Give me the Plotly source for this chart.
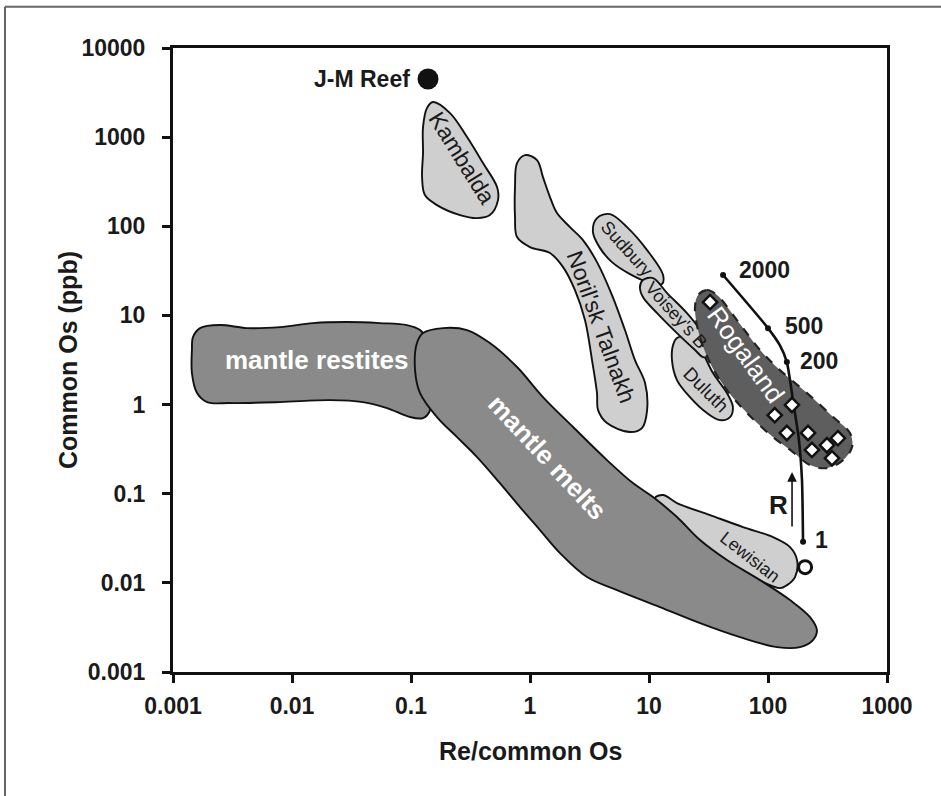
import numpy as np
import plotly.graph_objects as go

# ---------------- data (outlines as log10 values) ----------------
tick_vals_x = [0.001, 0.01, 0.1, 1, 10, 100, 1000]
tick_text_x = ["0.001", "0.01", "0.1", "1", "10", "100", "1000"]
tick_vals_y = [0.001, 0.01, 0.1, 1, 10, 100, 1000, 10000]
tick_text_y = ["0.001", "0.01", "0.1", "1", "10", "100", "1000", "10000"]

# region outlines: log10(Re/common Os), log10(common Os)
restites_lx = [-2.832, -2.773, -2.606, -2.378, -2.101, -1.824, -1.538, -1.261, -1.034, -0.924, -0.866,
               -0.857, -0.857, -0.840, -0.899, -1.008, -1.201, -1.403, -1.680, -2.101, -2.521, -2.714,
               -2.798, -2.841, -2.841]
restites_ly = [0.757, 0.858, 0.892, 0.858, 0.869, 0.914, 0.926, 0.914, 0.892, 0.836, 0.724,
               0.499, 0.219, -0.062, -0.151, -0.140, -0.039, 0.028, 0.050, 0.028, 0.017, 0.028,
               0.129, 0.353, 0.612]

melts_lx = [-0.950, -0.899, -0.731, -0.529, -0.337, -0.109, 0.109, 0.362, 0.647, 0.865, 1.034, 1.235,
            1.429, 1.655, 1.933, 2.185, 2.353, 2.411, 2.378, 2.269, 2.076, 1.765, 1.429, 1.092, 0.731,
            0.479, 0.252, 0.084, -0.084, -0.253, -0.445, -0.613, -0.782, -0.924, -0.966]
melts_ly = [0.690, 0.802, 0.858, 0.836, 0.690, 0.421, 0.084, -0.252, -0.623, -0.881, -1.038, -1.262,
            -1.520, -1.744, -1.969, -2.193, -2.384, -2.530, -2.642, -2.721, -2.721, -2.609, -2.452,
            -2.272, -2.081, -1.935, -1.666, -1.408, -1.150, -0.881, -0.589, -0.365, -0.140, 0.129, 0.387]

lewisian_lx = [1.051, 1.118, 1.235, 1.513, 1.790, 2.042, 2.185, 2.244, 2.227, 2.160, 2.100, 1.765, 1.429, 1.176]
lewisian_ly = [-1.049, -1.015, -1.105, -1.240, -1.374, -1.487, -1.599, -1.745, -1.935, -2.025, -2.059,
               -1.857, -1.576, -1.240]

kambalda_lx = [-0.815, -0.672, -0.529, -0.395, -0.277, -0.269, -0.337, -0.445, -0.588, -0.782, -0.883,
               -0.907, -0.899, -0.899, -0.866]
kambalda_ly = [3.394, 3.270, 3.001, 2.709, 2.440, 2.294, 2.126, 2.092, 2.126, 2.238, 2.350,
               2.552, 2.821, 3.113, 3.326]

norilsk_lx = [-0.042, 0.059, 0.109, 0.168, 0.227, 0.336, 0.445, 0.563, 0.689, 0.798, 0.882, 0.967, 0.984,
              0.941, 0.840, 0.647, 0.572, 0.563, 0.521, 0.462, 0.378, 0.278, 0.168, 0.000, -0.109,
              -0.126, -0.126, -0.109]
norilsk_ly = [2.799, 2.743, 2.552, 2.328, 2.148, 1.991, 1.845, 1.598, 1.228, 0.836, 0.499, 0.241, -0.062,
              -0.264, -0.308, -0.208, -0.062, 0.129, 0.499, 0.948, 1.284, 1.542, 1.700, 1.767, 1.879,
              2.103, 2.440, 2.709]

sudbury_lx = [0.563, 0.673, 0.815, 0.984, 1.118, 1.109, 0.992, 0.840, 0.689, 0.589, 0.529]
sudbury_ly = [2.092, 2.137, 1.991, 1.733, 1.453, 1.352, 1.374, 1.464, 1.598, 1.755, 1.935]

voisey_lx = [0.949, 1.034, 1.152, 1.319, 1.454, 1.538, 1.538, 1.454, 1.387, 1.235, 1.068, 0.949, 0.924]
voisey_ly = [1.397, 1.419, 1.251, 1.026, 0.802, 0.645, 0.555, 0.533, 0.612, 0.802, 1.026, 1.206, 1.318]

duluth_lx = [1.235, 1.344, 1.429, 1.538, 1.655, 1.705, 1.681, 1.597, 1.487, 1.344, 1.235, 1.193, 1.202]
duluth_ly = [0.746, 0.768, 0.634, 0.353, 0.129, -0.028, -0.140, -0.174, -0.095, 0.084, 0.275, 0.499, 0.667]

rogaland_lx = [1.412, 1.487, 1.571, 1.739, 1.933, 2.100, 2.328, 2.547, 2.689, 2.706, 2.631, 2.495, 2.353,
               2.210, 2.042, 1.824, 1.655, 1.513, 1.412, 1.387]
rogaland_ly = [1.228, 1.285, 1.228, 0.948, 0.612, 0.387, 0.129, -0.140, -0.320, -0.477, -0.623, -0.712,
               -0.679, -0.533, -0.365, -0.095, 0.163, 0.466, 0.836, 1.094]

# Rogaland samples
rogaland_re_os = [32.6, 159, 114, 144, 217, 234, 313, 387, 345]
rogaland_os = [14.1, 0.99, 0.76, 0.48, 0.48, 0.31, 0.35, 0.42, 0.25]

# model curve
curve_re_os = [41.9, 100, 126, 144, 162, 182, 193, 197]
curve_os = [28.4, 7.2, 4.6, 3.0, 1.12, 0.40, 0.142, 0.029]
curve_tick_re_os = [41.9, 100, 144, 197]
curve_tick_os = [28.4, 7.2, 3.0, 0.029]
curve_tick_labels = ["2000", "500", "200", "1"]

jm_reef_re_os = [0.139]
jm_reef_os = [4490]
open_re_os = [205]
open_os = [0.015]

# ---------------- figure ----------------
FONT = "Liberation Sans, Arial, sans-serif"
fig = go.Figure()

LIGHT = "#cfcfcf"
MID = "#8a8a8a"
DARK = "#5e5e5e"
INK = "#1a1a1a"


def region(lx, ly, fill, dash="solid", lw=1.9, lcolor="#111111"):
    x = 10 ** np.array(lx + [lx[0]])
    y = 10 ** np.array(ly + [ly[0]])
    fig.add_trace(go.Scatter(x=x, y=y, mode="lines", fill="toself", fillcolor=fill,
                             line=dict(color=lcolor, width=lw, shape="spline", smoothing=1.0, dash=dash),
                             hoverinfo="skip", showlegend=False))


region(restites_lx, restites_ly, MID)
region(lewisian_lx, lewisian_ly, LIGHT)
region(melts_lx, melts_ly, MID)
region(kambalda_lx, kambalda_ly, LIGHT)
region(norilsk_lx, norilsk_ly, LIGHT)
region(sudbury_lx, sudbury_ly, LIGHT)
region(duluth_lx, duluth_ly, LIGHT)
region(voisey_lx, voisey_ly, LIGHT)
region(rogaland_lx, rogaland_ly, DARK, dash="dash", lw=2.2, lcolor="#222222")

fig.add_trace(go.Scatter(x=curve_re_os, y=curve_os, mode="lines",
                         line=dict(color="#111111", width=2.6, shape="spline", smoothing=0.6),
                         hoverinfo="skip", showlegend=False))
fig.add_trace(go.Scatter(x=curve_tick_re_os, y=curve_tick_os, mode="markers",
                         marker=dict(color="#111111", size=6), hoverinfo="skip", showlegend=False))
fig.add_trace(go.Scatter(x=rogaland_re_os, y=rogaland_os, mode="markers",
                         marker=dict(symbol="diamond", color="white", size=11,
                                     line=dict(color="#111111", width=2.5)),
                         hoverinfo="skip", showlegend=False))
fig.add_trace(go.Scatter(x=jm_reef_re_os, y=jm_reef_os, mode="markers",
                         marker=dict(color="#111111", size=21), hoverinfo="skip", showlegend=False))
fig.add_trace(go.Scatter(x=open_re_os, y=open_os, mode="markers",
                         marker=dict(color="white", size=13, line=dict(color="#111111", width=3)),
                         hoverinfo="skip", showlegend=False))


def label(text, lx, ly, angle=0, size=16, color=INK, weight="normal", xanchor="center"):
    fig.add_annotation(x=lx, y=ly, xref="x", yref="y", text=text, showarrow=False,
                       textangle=angle, xanchor=xanchor, yanchor="middle",
                       font=dict(family=FONT, size=size, color=color, weight=weight))


label("J-M Reef", -0.992, 3.652, size=23, weight="bold", xanchor="right")
label("Kambalda", -0.571, 2.765, angle=58, size=23)
label("Noril'sk Talnakh", 0.597, 0.869, angle=70, size=23)
label("Sudbury", 0.815, 1.744, angle=48, size=18)
label("Voisey's B", 1.227, 1.004, angle=48, size=18)
label("Duluth", 1.479, 0.174, angle=45, size=19)
label("Rogaland", 1.815, 0.555, angle=54, size=26, color="white")
label("mantle restites", -1.790, 0.499, size=26, color="white", weight="bold")
label("mantle melts", 0.143, -0.589, angle=47, size=26, color="white", weight="bold")
label("Lewisian", 1.849, -1.711, angle=38, size=18)
for t, lx, ly in zip(curve_tick_labels, [1.739, 2.126, 2.252, 2.378], [1.509, 0.881, 0.488, -1.520]):
    label(t, lx, ly, size=23, weight="bold", xanchor="left")
label("R", 2.092, -1.127, size=26, weight="bold")

# R arrow
fig.add_annotation(x=2.202, y=-0.757, ax=2.202, ay=-1.385, xref="x", yref="y", axref="x", ayref="y",
                   text="", showarrow=True, arrowhead=2, arrowsize=1.2, arrowwidth=1.6, arrowcolor="#111111")

# axis titles
fig.add_annotation(x=-0.147, y=0.5, xref="paper", yref="paper", text="Common Os (ppb)", showarrow=False,
                   textangle=-90, xanchor="center", yanchor="middle",
                   font=dict(family=FONT, size=25, color=INK, weight="bold"))
fig.add_annotation(x=0.5, y=-0.127, xref="paper", yref="paper", text="Re/common Os", showarrow=False,
                   xanchor="center", yanchor="middle",
                   font=dict(family=FONT, size=25, color=INK, weight="bold"))

# outer frame (top and left edges)
fig.add_shape(type="line", xref="paper", yref="paper", x0=-0.2353, x1=1.08, y0=1.066, y1=1.066,
              line=dict(color="#666666", width=2))
fig.add_shape(type="line", xref="paper", yref="paper", x0=-0.2353, x1=-0.2353, y0=1.066, y1=-0.21,
              line=dict(color="#666666", width=2))

axis_common = dict(type="log", showgrid=False, zeroline=False, showline=True, linecolor="#111111",
                   linewidth=3, mirror=True, ticks="outside", ticklen=8, tickwidth=3, tickcolor="#111111",
                   tickfont=dict(family=FONT, size=23, color=INK, weight="bold"))
fig.update_xaxes(range=[-3, 3], tickvals=tick_vals_x, ticktext=tick_text_x, ticklabelstandoff=3,
                 **axis_common)
fig.update_yaxes(range=[-3, 4], tickvals=tick_vals_y, ticktext=tick_text_y, ticklabelstandoff=12,
                 **axis_common)

fig.update_layout(width=941, height=796, margin=dict(l=173, r=54, t=48, b=124),
                  paper_bgcolor="white", plot_bgcolor="white", showlegend=False)

fig.write_html("out.html", config={"displayModeBar": False},
               post_script="document.body.style.margin='0px';document.body.style.overflow='hidden';")
